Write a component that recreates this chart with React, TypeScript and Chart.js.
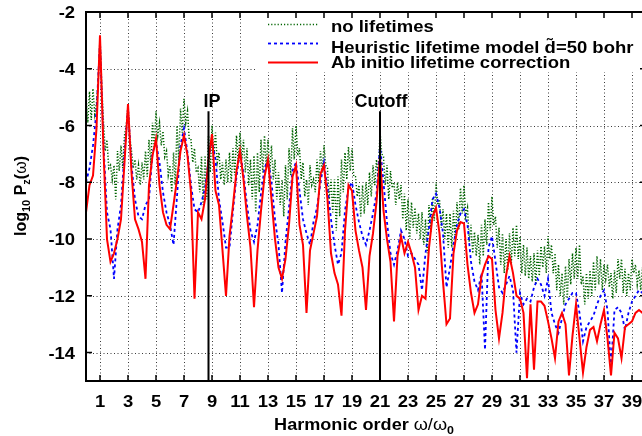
import React, { useEffect, useRef } from "react";
import { Chart, registerables } from "chart.js";

Chart.register(...registerables);

// ---------- data ----------
// samples every 0.25 harmonic order, starting at 0
const sampleStep = 0.25;
const xTicks = [1, 3, 5, 7, 9, 11, 13, 15, 17, 19, 21, 23, 25, 27, 29, 31, 33, 35, 37, 39];
const yTicks = [-2, -4, -6, -8, -10, -12, -14];
const legendLabels = [
  "no lifetimes",
  "Heuristic lifetime model d\u0303=50 bohr",
  "Ab initio lifetime correction",
];
const markerLabels = ["IP", "Cutoff"];
const markerPositions = [8.75, 21.0];
const markerTop = -5.5;

const abInitio = [
  -9.06, -8.1, -7.76, -6.1, -2.82, -6.9, -10.0, -10.8,
  -10.5, -10.0, -9.3, -7.3, -5.24, -7.65, -9.3, -9.65,
  -10.1, -11.4, -8.1, -7.06, -6.47, -8.1, -9.06, -9.5,
  -9.65, -8.8, -7.9, -6.9, -6.35, -7.06, -8.35, -12.1,
  -9.06, -9.3, -8.6, -7.2, -6.3, -8.3, -8.8, -10.4,
  -12.0, -9.9, -8.8, -7.6, -6.9, -7.9, -9.2, -10.3,
  -12.4, -10.4, -9.0, -7.8, -7.2, -8.6, -10.0, -11.0,
  -11.4, -10.7, -9.5, -7.8, -7.4, -9.5, -10.2, -12.6,
  -10.4, -9.8, -9.2, -7.7, -7.4, -8.6, -10.5, -11.2,
  -11.6, -12.7, -9.7, -8.1, -8.3, -9.7, -10.4, -11.0,
  -12.5, -10.6, -9.8, -8.7, -7.1, -9.0, -10.0, -10.8,
  -12.9, -10.6, -9.9, -10.5, -10.1, -10.5, -11.0, -12.5,
  -12.0, -12.1, -10.3, -9.2, -8.9, -9.8, -11.5, -13.0,
  -12.8, -10.5, -9.7, -9.4, -9.45, -10.9, -11.9, -12.6,
  -12.3, -11.3, -10.9, -10.6, -10.7, -12.5, -13.5, -12.6,
  -11.3, -10.6, -11.2, -12.0, -12.1, -12.6, -14.9, -12.3,
  -14.6, -12.2, -12.2, -12.35, -12.9, -13.5, -14.2, -12.9,
  -12.6, -13.0, -14.8, -13.4, -12.3, -13.5, -14.7, -13.8,
  -13.2, -13.1, -13.6, -13.0, -12.5, -13.5, -14.8, -13.3,
  -13.5, -14.2, -13.1, -13.0, -12.9, -12.6, -12.5, -12.6,
  -12.8,
];

const heuristic = [
  -8.0, -7.5, -6.7, -5.5, -3.06, -6.7, -9.06, -9.65,
  -11.4, -9.65, -8.8, -6.95, -5.4, -7.4, -8.6, -9.2,
  -9.3, -8.8, -8.6, -6.95, -6.6, -7.3, -8.35, -9.06,
  -9.5, -10.2, -8.5, -6.7, -6.1, -6.95, -8.1, -8.95,
  -9.06, -8.7, -8.2, -7.2, -6.5, -7.2, -8.6, -9.4,
  -10.3, -10.3, -9.0, -7.8, -6.9, -7.7, -8.8, -9.7,
  -10.1, -9.5, -8.4, -7.5, -7.2, -8.0, -9.3, -10.2,
  -11.9, -10.1, -8.9, -7.6, -7.3, -8.3, -9.3, -9.8,
  -10.2, -9.4, -8.9, -8.0, -7.3, -8.2, -9.3, -10.2,
  -10.9, -10.5, -9.0, -8.2, -8.0, -8.8, -9.4, -9.9,
  -10.2, -9.7, -9.1, -8.4, -6.7, -8.0, -9.4, -10.5,
  -10.9, -10.4, -9.7, -10.0, -10.6, -10.5, -10.7, -10.9,
  -11.8, -10.5, -9.6, -8.6, -8.4, -8.9, -9.8, -11.7,
  -11.0, -10.2, -9.5, -9.1, -8.95, -9.5, -10.8, -11.5,
  -11.8, -11.2, -13.9, -10.3, -9.9, -10.8, -11.7, -11.9,
  -11.6, -11.3, -11.8, -14.0, -11.9, -12.3, -12.1, -12.2,
  -11.7, -11.4, -11.6, -12.0, -11.4, -12.6, -13.0, -13.3,
  -12.8, -12.3, -12.1, -11.9, -11.9, -12.6, -13.6, -13.1,
  -12.9, -12.7, -12.3, -12.0, -11.8, -12.5, -14.5, -12.5,
  -12.4, -12.6, -13.2, -12.6, -12.2, -12.0, -11.8, -11.9,
  -12.0,
];

// "no lifetimes": fast fringes; crest values at the samples, trough values half a step later
const noLifetimeCrest = [
  -4.9, -4.8, -4.7, -5.2, -2.9, -5.9, -6.5, -7.4,
  -7.4, -6.9, -6.7, -6.35, -5.3, -6.9, -7.2, -7.4,
  -7.3, -6.9, -6.5, -5.9, -5.5, -5.9, -6.2, -6.9,
  -7.4, -6.95, -6.0, -5.4, -5.06, -5.5, -6.5, -6.8,
  -7.5, -7.1, -7.06, -6.35, -6.0, -6.25, -6.95, -7.3,
  -7.2, -6.95, -6.8, -6.35, -6.25, -6.5, -6.8, -7.2,
  -7.06, -6.95, -6.5, -6.35, -6.5, -6.7, -7.2, -7.65,
  -7.9, -7.4, -6.8, -6.1, -6.0, -6.8, -7.3, -7.9,
  -7.4, -7.9, -7.2, -6.9, -6.7, -7.5, -7.9, -7.9,
  -7.8, -7.2, -6.95, -6.75, -6.8, -7.8, -8.1, -8.1,
  -8.0, -7.65, -7.4, -7.2, -6.2, -7.1, -7.4, -7.6,
  -8.0, -8.0, -8.1, -8.4, -8.6, -8.7, -8.9, -9.1,
  -9.05, -9.3, -8.8, -8.55, -8.0, -8.6, -8.95, -9.1,
  -9.1, -9.0, -8.7, -8.2, -8.1, -8.9, -9.5, -9.75,
  -9.85, -9.5, -9.3, -8.7, -8.5, -9.2, -9.6, -9.8,
  -10.0, -9.8, -9.6, -9.5, -9.9, -10.2, -10.3, -10.6,
  -10.5, -10.4, -10.25, -10.25, -9.9, -10.2, -10.5, -10.9,
  -11.2, -10.95, -10.7, -10.5, -10.3, -10.2, -11.3, -11.2,
  -11.1, -10.8, -10.6, -10.7, -10.9, -10.9, -11.2, -11.1,
  -10.7, -10.7, -11.05, -11.2, -10.7, -10.9, -11.1, -11.0,
  -10.9,
];

const noLifetimeTrough = [
  -5.9, -5.8, -5.6, -4.4, -4.6, -6.9, -7.5, -7.9,
  -8.6, -7.6, -7.5, -6.0, -6.4, -7.5, -7.9, -8.1,
  -7.9, -7.8, -7.4, -6.8, -6.35, -6.7, -7.1, -7.75,
  -8.35, -8.1, -7.3, -6.25, -5.9, -6.5, -7.3, -7.65,
  -8.35, -8.8, -8.6, -7.65, -7.06, -7.3, -7.9, -8.1,
  -8.0, -8.0, -7.75, -7.3, -7.2, -7.65, -8.1, -8.6,
  -9.06, -8.35, -7.65, -7.5, -7.65, -7.9, -8.6, -8.8,
  -9.2, -8.6, -7.75, -7.2, -7.06, -7.9, -8.5, -8.8,
  -8.1, -8.35, -8.0, -7.65, -7.4, -8.6, -9.06, -9.7,
  -9.2, -8.35, -7.9, -7.6, -7.8, -8.5, -9.2, -9.1,
  -8.8, -8.5, -8.1, -7.9, -7.0, -8.1, -8.6, -8.2,
  -8.8, -8.6, -9.3, -9.7, -10.0, -9.6, -9.8, -10.0,
  -10.2, -10.5, -9.75, -9.35, -8.8, -9.6, -10.0, -10.3,
  -10.3, -10.0, -9.65, -9.1, -9.2, -10.1, -10.5, -10.6,
  -10.9, -10.6, -10.2, -9.7, -9.5, -10.3, -10.9, -11.2,
  -11.1, -10.9, -10.6, -10.7, -11.2, -11.3, -11.4, -11.5,
  -11.6, -11.3, -11.0, -11.2, -10.7, -11.2, -11.8, -12.0,
  -12.3, -12.1, -11.6, -11.4, -11.4, -11.6, -12.3, -12.1,
  -12.0, -11.8, -11.6, -11.8, -11.4, -11.7, -12.1, -11.9,
  -11.4, -11.9, -12.0, -11.8, -11.2, -11.6, -11.8, -11.7,
];

// ---------- helpers ----------
const FONT = '"Liberation Sans", Arial, Helvetica, sans-serif';

type Part = { t: string; size: number; bold?: boolean; dy?: number };

function partFont(p: Part) {
  return `${p.bold === false ? "normal" : "bold"} ${p.size}px ${FONT}`;
}

function drawRich(
  ctx: CanvasRenderingContext2D,
  parts: Part[],
  x: number,
  y: number,
  align: "left" | "center" | "right",
  sx: number,
  rotate = 0
) {
  ctx.save();
  ctx.translate(x, y);
  if (rotate) ctx.rotate(rotate);
  ctx.scale(sx, 1);
  let total = 0;
  for (const p of parts) {
    ctx.font = partFont(p);
    total += ctx.measureText(p.t).width;
  }
  let cx = align === "left" ? 0 : align === "center" ? -total / 2 : -total;
  ctx.textAlign = "left";
  ctx.textBaseline = "alphabetic";
  ctx.fillStyle = "#000";
  for (const p of parts) {
    ctx.font = partFont(p);
    ctx.fillText(p.t, cx, p.dy || 0);
    cx += ctx.measureText(p.t).width;
  }
  ctx.restore();
}

const decor = {
  id: "decor",
  beforeDatasetsDraw(chart: any) {
    const { ctx, chartArea: a, scales } = chart;
    const xs = scales.x;
    const ys = scales.y;
    ctx.save();
    ctx.strokeStyle = "#3a3a3a";
    ctx.lineWidth = 1;
    ctx.setLineDash([1, 2.5]);
    for (const v of xTicks) {
      const px = Math.round(xs.getPixelForValue(v)) + 0.5;
      ctx.beginPath();
      ctx.moveTo(px, a.top);
      ctx.lineTo(px, a.bottom);
      ctx.stroke();
    }
    for (const v of yTicks) {
      if (v === -2) continue;
      const py = Math.round(ys.getPixelForValue(v)) + 0.5;
      ctx.beginPath();
      ctx.moveTo(a.left, py);
      ctx.lineTo(a.right, py);
      ctx.stroke();
    }
    ctx.setLineDash([]);
    // legend background box
    ctx.fillStyle = "#fff";
    ctx.fillRect(257, a.top, a.right - 257, 72 - a.top);
    ctx.restore();
  },
  afterDatasetsDraw(chart: any) {
    const { ctx, chartArea: a, scales } = chart;
    const xs = scales.x;
    const ys = scales.y;
    ctx.save();

    // IP / Cutoff markers
    ctx.strokeStyle = "#000";
    ctx.lineWidth = 2;
    markerPositions.forEach((mx, i) => {
      const px = xs.getPixelForValue(mx);
      ctx.beginPath();
      ctx.moveTo(px, ys.getPixelForValue(markerTop));
      ctx.lineTo(px, a.bottom);
      ctx.stroke();
      drawRich(
        ctx,
        [{ t: markerLabels[i], size: 18 }],
        px + (i === 0 ? 3.5 : 1),
        107,
        "center",
        1.0
      );
    });

    // legend samples
    const sampleY = [24.5, 43.5, 62.5];
    const styles = [
      { c: "#006400", w: 1.5, d: [1.2, 2] },
      { c: "#0000ff", w: 1.8, d: [3, 3] },
      { c: "#ff0000", w: 2, d: [] as number[] },
    ];
    const textY = [31.5, 53.3, 68.2];
    for (let i = 0; i < 3; i++) {
      ctx.strokeStyle = styles[i].c;
      ctx.lineWidth = styles[i].w;
      ctx.setLineDash(styles[i].d);
      ctx.beginPath();
      ctx.moveTo(268, sampleY[i]);
      ctx.lineTo(318, sampleY[i]);
      ctx.stroke();
      ctx.setLineDash([]);
      drawRich(ctx, [{ t: legendLabels[i], size: 16.5 }], 331, textY[i], "left", 1.12);
    }

    // border
    ctx.strokeStyle = "#000";
    ctx.lineWidth = 2;
    ctx.strokeRect(a.left, a.top, a.right - a.left, a.bottom - a.top);

    // inward ticks
    ctx.lineWidth = 1.5;
    const tl = 6;
    for (const v of xTicks) {
      const px = xs.getPixelForValue(v);
      ctx.beginPath();
      ctx.moveTo(px, a.bottom);
      ctx.lineTo(px, a.bottom - tl);
      ctx.moveTo(px, a.top);
      ctx.lineTo(px, a.top + tl);
      ctx.stroke();
    }
    for (const v of yTicks) {
      const py = ys.getPixelForValue(v);
      ctx.beginPath();
      ctx.moveTo(a.left, py);
      ctx.lineTo(a.left + tl, py);
      ctx.moveTo(a.right, py);
      ctx.lineTo(a.right - tl, py);
      ctx.stroke();
    }

    // tick labels
    for (const v of xTicks) {
      drawRich(ctx, [{ t: String(v), size: 16 }], xs.getPixelForValue(v), 407, "center", 1.15);
    }
    for (const v of yTicks) {
      drawRich(ctx, [{ t: String(v), size: 16 }], 75, ys.getPixelForValue(v) + 6, "right", 1.15);
    }

    // axis titles
    drawRich(
      ctx,
      [
        { t: "Harmonic order ", size: 16 },
        { t: "\u03c9/\u03c9", size: 16, bold: false },
        { t: "0", size: 11, dy: 4 },
      ],
      (a.left + a.right) / 2 - 2,
      430,
      "center",
      1.13
    );
    drawRich(
      ctx,
      [
        { t: "log", size: 16 },
        { t: "10", size: 11, dy: 4 },
        { t: " P", size: 16 },
        { t: "z", size: 11, dy: 4 },
        { t: "(", size: 16 },
        { t: "\u03c9", size: 16, bold: false },
        { t: ")", size: 16 },
      ],
      26,
      196,
      "center",
      1.0,
      -Math.PI / 2
    );

    ctx.restore();
  },
};

export default function App() {
  const ref = useRef<HTMLCanvasElement | null>(null);

  useEffect(() => {
    if (!ref.current) return;
    const redPts = abInitio.map((y, i) => ({ x: i * sampleStep, y }));
    const bluePts = heuristic.map((y, i) => ({ x: i * sampleStep, y }));
    const greenPts: { x: number; y: number }[] = [];
    noLifetimeCrest.forEach((y, i) => {
      greenPts.push({ x: i * sampleStep, y });
      if (i < noLifetimeTrough.length) {
        greenPts.push({ x: i * sampleStep + sampleStep / 2, y: noLifetimeTrough[i] });
      }
    });

    const chart = new Chart(ref.current, {
      type: "line",
      data: {
        datasets: [
          {
            label: legendLabels[2],
            data: redPts,
            borderColor: "#ff0000",
            borderWidth: 2,
            pointRadius: 0,
            tension: 0,
            order: 0,
          },
          {
            label: legendLabels[1],
            data: bluePts,
            borderColor: "#0000ff",
            borderWidth: 1.8,
            borderDash: [3, 3],
            pointRadius: 0,
            tension: 0,
            order: 1,
          },
          {
            label: legendLabels[0],
            data: greenPts,
            borderColor: "#006400",
            borderWidth: 1.5,
            borderDash: [1.2, 1.8],
            pointRadius: 0,
            tension: 0,
            order: 2,
          },
        ],
      },
      options: {
        animation: false,
        responsive: false,
        events: [],
        layout: { padding: { top: 12, right: 14, left: 0, bottom: 0 } },
        plugins: { legend: { display: false }, tooltip: { enabled: false } },
        scales: {
          x: {
            type: "linear",
            min: 0,
            max: 40,
            ticks: { display: false },
            grid: { display: false },
            border: { display: false },
            afterFit: (s: any) => {
              s.height = 55;
            },
          },
          y: {
            type: "linear",
            min: -15,
            max: -2,
            ticks: { display: false },
            grid: { display: false },
            border: { display: false },
            afterFit: (s: any) => {
              s.width = 86;
            },
          },
        },
      },
      plugins: [decor],
    } as any);

    return () => chart.destroy();
  }, []);

  return (
    <div
      style={{
        position: "fixed",
        left: 0,
        top: 0,
        width: 642,
        height: 436,
        overflow: "hidden",
        background: "#fff",
      }}
    >
      <canvas ref={ref} width={660} height={436} style={{ display: "block" }} />
    </div>
  );
}
